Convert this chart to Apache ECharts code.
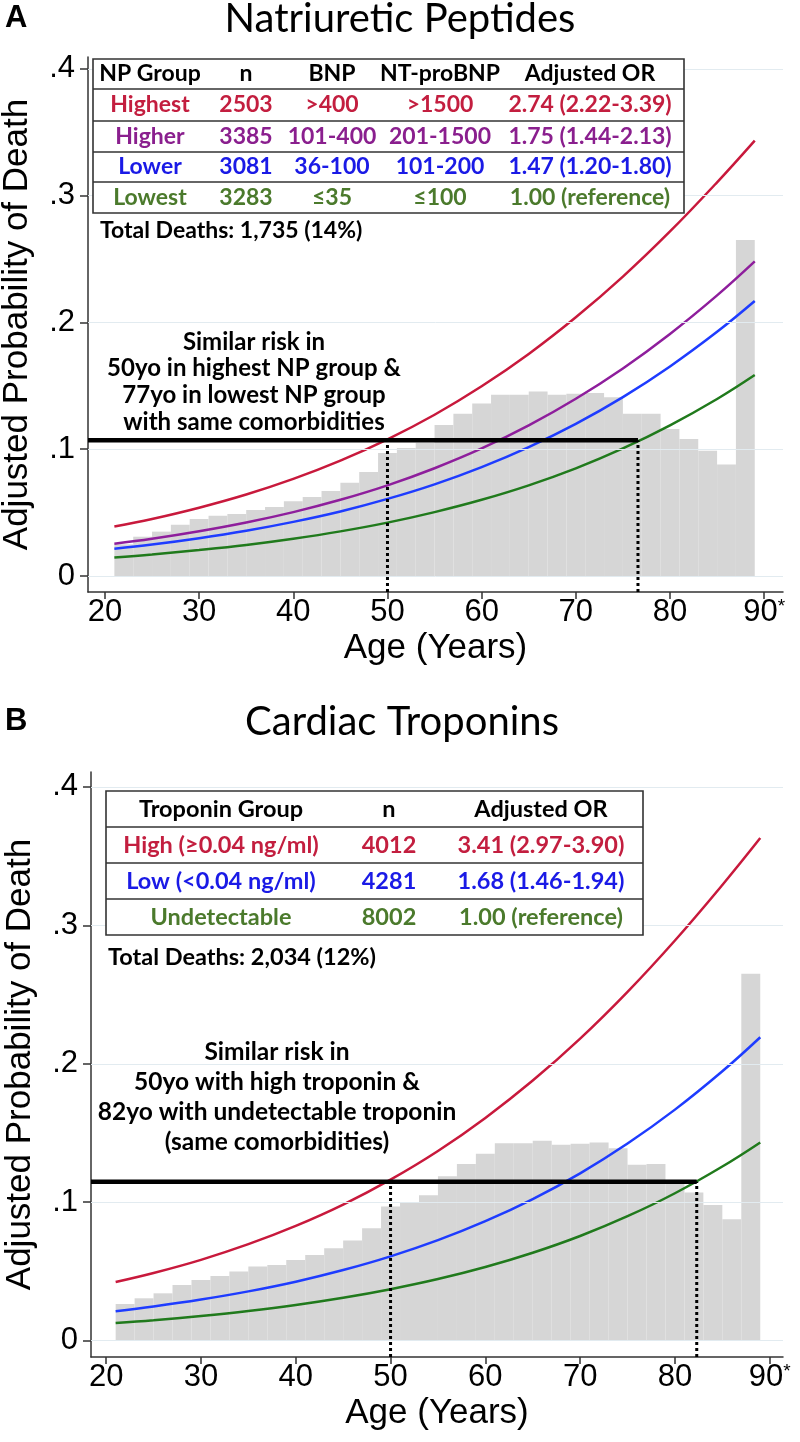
<!DOCTYPE html>
<html><head><meta charset="utf-8">
<script src="https://cdn.jsdelivr.net/npm/echarts@6/dist/echarts.min.js"></script>
<style>html,body{margin:0;padding:0;background:#fff}#c{width:800px;height:1442px}</style>
</head><body><div id="c"></div>
<script>
// ---------- data ----------
const ages = [21,25,30,35,40,45,50,55,60,65,70,75,80,85,89];
// Panel A (Natriuretic peptides) predicted probabilities
const npHighestP = [0.0390,0.0450,0.0539,0.0643,0.0766,0.0910,0.1078,0.1272,0.1496,0.1751,0.2040,0.2361,0.2717,0.3105,0.3434];
const npHigherP  = [0.0255,0.0294,0.0353,0.0422,0.0504,0.0601,0.0715,0.0850,0.1006,0.1188,0.1398,0.1637,0.1909,0.2213,0.2481];
const npLowerP   = [0.0215,0.0248,0.0298,0.0357,0.0427,0.0509,0.0608,0.0723,0.0859,0.1017,0.1200,0.1411,0.1653,0.1926,0.2169];
const npLowestP  = [0.0147,0.0170,0.0205,0.0245,0.0294,0.0352,0.0421,0.0504,0.0601,0.0715,0.0849,0.1006,0.1188,0.1396,0.1585];
// Panel B (Troponins)
const tnHighP  = [0.0424,0.0489,0.0584,0.0697,0.0829,0.0983,0.1163,0.1370,0.1609,0.1879,0.2182,0.2520,0.2891,0.3292,0.3631];
const tnLowP   = [0.0213,0.0247,0.0297,0.0356,0.0426,0.0510,0.0609,0.0726,0.0863,0.1023,0.1209,0.1424,0.1669,0.1946,0.2192];
const tnUndetP = [0.0128,0.0148,0.0179,0.0215,0.0258,0.0310,0.0372,0.0445,0.0532,0.0635,0.0756,0.0899,0.1065,0.1258,0.1432];
// Histogram (2-year bins)
const binWidth = 2;
const binStarts = [21,23,25,27,29,31,33,35,37,39,41,43,45,47,49,51,53,55,57,59,61,63,65,67,69,71,73,75,77,79,81,83,85,87];
const histA = [0.025,0.031,0.035,0.0405,0.045,0.0476,0.049,0.052,0.0545,0.059,0.0624,0.067,0.0735,0.082,0.097,0.101,0.105,0.119,0.128,0.136,0.143,0.143,0.1455,0.143,0.1437,0.1444,0.141,0.128,0.128,0.116,0.108,0.0987,0.088,0.265];
const histB = [0.0265,0.0306,0.0342,0.0402,0.0439,0.0467,0.0499,0.0535,0.0547,0.0583,0.0619,0.0667,0.0723,0.0812,0.097,0.0999,0.105,0.1187,0.1276,0.135,0.1427,0.1427,0.1444,0.1415,0.1422,0.1432,0.139,0.127,0.1276,0.115,0.107,0.098,0.0878,0.265];
// reference (similar risk) lines
const refProbA = 0.107, refAgesA = [50, 76.6];
const refProbB = 0.1148, refAgesB = [50, 82.3];
// ticks
const xTicks = [20,30,40,50,60,70,80,90];
const yTicks = [0,0.1,0.2,0.3,0.4];
// tables
const npHeader = ['NP Group','n','BNP','NT-proBNP','Adjusted OR'];
const npGroup = ['Highest','Higher','Lower','Lowest'];
const npN = ['2503','3385','3081','3283'];
const npBNP = ['>400','101-400','36-100','≤35'];
const npNT = ['>1500','201-1500','101-200','≤100'];
const npOR = ['2.74 (2.22-3.39)','1.75 (1.44-2.13)','1.47 (1.20-1.80)','1.00 (reference)'];
const tnHeader = ['Troponin Group','n','Adjusted OR'];
const tnGroup = ['High (≥0.04 ng/ml)','Low (<0.04 ng/ml)','Undetectable'];
const tnN = ['4012','4281','8002'];
const tnOR = ['3.41 (2.97-3.90)','1.68 (1.46-1.94)','1.00 (reference)'];
const totalA = 'Total Deaths: 1,735 (14%)';
const totalB = 'Total Deaths: 2,034 (12%)';
const noteA = ['Similar risk in','50yo in highest NP group &','77yo in lowest NP group','with same comorbidities'];
const noteB = ['Similar risk in','50yo with high troponin &','82yo with undetectable troponin','(same comorbidities)'];

// ---------- styles ----------
const C = {red:'#C8193C', purple:'#8E1E9C', blue:'#1E3CFF', green:'#207A1C', gray:'#D6D6D6'};
const T = {red:'#C31E3F', purple:'#8A1F8E', blue:'#1A1AE6', green:'#4B7A2C', black:'#000'};
const AX = '#333';
const tickFont = 'Liberation Sans';

const rangeA = {xmin:18.2, xmax:92.0, ymin:-0.0126, ymax:0.4093};
const rangeB = {xmin:18.4, xmax:91.4, ymin:-0.0118, ymax:0.4108};

function xAxisCfg(gi, r){
  return {type:'value', gridIndex:gi, min:r.xmin, max:r.xmax,
    axisLine:{show:true, onZero:false, lineStyle:{color:AX, width:1.5}},
    axisTick:{show:true, length:7, customValues:xTicks, lineStyle:{color:AX, width:1.5}},
    axisLabel:{customValues:xTicks, fontSize:31, fontFamily:tickFont, color:'#000', margin:5,
      formatter:v => v===90 ? '{a|90}{s|*}' : String(v),
      rich:{a:{fontSize:31, fontFamily:tickFont, color:'#000'}, s:{fontSize:19, fontFamily:tickFont, color:'#000', verticalAlign:'top'}}},
    splitLine:{show:false},
    name:'Age (Years)', nameLocation:'middle', nameGap:39,
    nameTextStyle:{fontSize:35, fontFamily:tickFont, color:'#000'}};
}
function yAxisCfg(gi, r){
  return {type:'value', gridIndex:gi, min:r.ymin, max:r.ymax,
    axisLine:{show:true, onZero:false, lineStyle:{color:AX, width:1.5}},
    axisTick:{show:true, length:8, customValues:yTicks, lineStyle:{color:AX, width:1.5}},
    axisLabel:{customValues:yTicks, fontSize:31, fontFamily:tickFont, color:'#000', margin:13,
      formatter:v => v===0 ? '0' : v.toFixed(1).replace(/^0/,'')},
    splitLine:{show:false},
    name:'Adjusted Probability of Death', nameLocation:'middle', nameGap:53,
    nameTextStyle:{fontSize:35, fontFamily:tickFont, color:'#000'}};
}
function histSeries(gi, vals){
  return {type:'custom', xAxisIndex:gi, yAxisIndex:gi, z:2, silent:true,
    data: binStarts.map((s,i)=>[s, vals[i]]),
    renderItem:(params, api)=>{
      const x0 = api.value(0), h = api.value(1);
      const p0 = api.coord([x0, 0]);
      const p1 = api.coord([x0 + binWidth, h]);
      return {type:'rect', shape:{x:p0[0], y:p1[1], width:p1[0]-p0[0], height:p0[1]-p1[1]},
        style:{fill:C.gray}};
    }};
}
function gridSeries(gi){
  return {type:'line', xAxisIndex:gi, yAxisIndex:gi, data:[], z:1, silent:true,
    markLine:{silent:true, symbol:['none','none'], label:{show:false}, animation:false,
      lineStyle:{color:'#E2EBF0', width:1, type:'solid'},
      data: yTicks.map(v=>({yAxis:v}))}};
}
function curve(gi, vals, color){
  return {type:'line', xAxisIndex:gi, yAxisIndex:gi, z:4, silent:true, smooth:0.4,
    showSymbol:false, data: ages.map((a,i)=>[a, vals[i]]),
    lineStyle:{color, width:2.5}};
}
function refSeries(gi, r, p, agesRef){
  const out = [];
  out.push({type:'line', xAxisIndex:gi, yAxisIndex:gi, z:5, silent:true, showSymbol:false,
    data:[[r.xmin, p],[agesRef[1], p]], lineStyle:{color:'#000', width:4.5}});
  agesRef.forEach(a=>{
    out.push({type:'line', xAxisIndex:gi, yAxisIndex:gi, z:5, silent:true, showSymbol:false,
      data:[[a, r.ymin],[a, p]], lineStyle:{color:'#000', width:3, type:[3,3]}});
  });
  return out;
}

// ---------- graphics (titles, tables, notes) ----------
function txt(x, y, text, font, fill, align){
  return {type:'text', x, y, z:102, silent:true,
    style:{text, font, fill, align:align||'center', verticalAlign:'middle',
      textAlign:align||'center', textVerticalAlign:'middle'}};
}
function table(left, right, edges, cols, rows, colors, fs){
  const els = [];
  els.push({type:'rect', z:100, silent:true,
    shape:{x:left, y:edges[0], width:right-left, height:edges[edges.length-1]-edges[0]},
    style:{fill:'#fff', stroke:'#333', lineWidth:1.6}});
  for (let i=1;i<edges.length-1;i++){
    els.push({type:'line', z:101, silent:true, shape:{x1:left, y1:edges[i], x2:right, y2:edges[i]},
      style:{stroke:'#333', lineWidth:1.6}});
  }
  rows.forEach((row, ri)=>{
    const yc = (edges[ri]+edges[ri+1])/2;
    row.forEach((t, ci)=> els.push(txt(cols[ci], yc, t, 'bold '+fs+'px Lato', colors[ri])));
  });
  return els;
}
const npRows = [npHeader].concat(npGroup.map((g,i)=>[g, npN[i], npBNP[i], npNT[i], npOR[i]]));
const tnRows = [tnHeader].concat(tnGroup.map((g,i)=>[g, tnN[i], tnOR[i]]));

const graphics = [].concat(
  [txt(5, 18, 'A', 'bold 31px Liberation Sans', '#000', 'left'),
   txt(400, 19, 'Natriuretic Peptides', '40px Lato', '#000'),
   txt(5, 721, 'B', 'bold 31px Liberation Sans', '#000', 'left'),
   txt(402, 722, 'Cardiac Troponins', '40px Lato', '#000')],
  table(93, 684, [59,89,121,152,182,213], [150,246,332,440,590], npRows,
        [T.black, T.red, T.purple, T.blue, T.green], 23),
  [txt(100, 231, totalA, 'bold 23px Lato', '#000', 'left')],
  table(106, 643, [791,827,863,899,935], [221,389,541], tnRows,
        [T.black, T.red, T.blue, T.green], 23.5),
  [txt(108, 957, totalB, 'bold 23.5px Lato', '#000', 'left')],
  noteA.map((t,i)=>txt(254, 342 + 26.7*i, t, 'bold 24px Lato', '#000')),
  noteB.map((t,i)=>txt(277, 1052 + 30*i, t, 'bold 24.5px Lato', '#000'))
);

const option = {
  animation:false,
  backgroundColor:'#fff',
  grid:[
    {left:88, top:57, width:695, height:535, containLabel:false, outerBoundsMode:'none'},
    {left:91, top:772, width:692, height:585, containLabel:false, outerBoundsMode:'none'}
  ],
  xAxis:[xAxisCfg(0, rangeA), xAxisCfg(1, rangeB)],
  yAxis:[yAxisCfg(0, rangeA), yAxisCfg(1, rangeB)],
  series:[].concat(
    [gridSeries(0), histSeries(0, histA),
     curve(0, npLowestP, C.green), curve(0, npLowerP, C.blue), curve(0, npHigherP, C.purple), curve(0, npHighestP, C.red)],
    refSeries(0, rangeA, refProbA, refAgesA),
    [gridSeries(1), histSeries(1, histB),
     curve(1, tnUndetP, C.green), curve(1, tnLowP, C.blue), curve(1, tnHighP, C.red)],
    refSeries(1, rangeB, refProbB, refAgesB)
  ),
  graphic:{elements:graphics}
};
const chart = echarts.init(document.getElementById('c'), null, {renderer:'canvas', width:800, height:1442});
chart.setOption(option);
</script></body></html>
